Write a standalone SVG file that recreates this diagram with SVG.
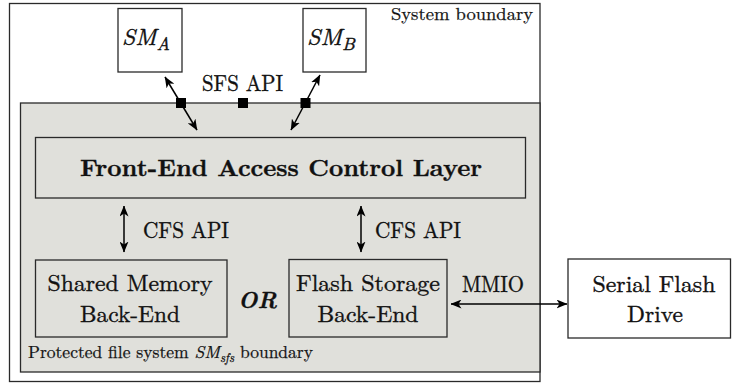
<svg xmlns="http://www.w3.org/2000/svg" width="732" height="383" viewBox="0 0 732 383" font-family="Latin Modern Roman">
<defs>
<marker id="ah" viewBox="0 0 11 9" refX="10.5" refY="4.5" markerWidth="11" markerHeight="9" markerUnits="userSpaceOnUse" orient="auto-start-reverse">
<path d="M0,0 L11,4.5 L0,9 L3,4.5 z" fill="#000"/>
</marker>
<style>
.box{fill:none;stroke:#2a2a2a;stroke-width:1.3}
.wbox{fill:#fff;stroke:#2a2a2a;stroke-width:1.3}
text{fill:#111;stroke:#111;stroke-width:0.35;font-size:23px}
.s{font-size:17.5px;stroke-width:0.25}
.i{font-style:italic}
.b{font-weight:bold}
.conn{stroke:#000;stroke-width:1.5;fill:none;marker-start:url(#ah);marker-end:url(#ah)}
.port{fill:#000}
</style>
</defs>
<rect width="732" height="383" fill="#fff"/>

<g id="system-boundary">
<rect class="wbox" x="9.5" y="3.5" width="530.5" height="378"/>
<text class="s" x="533" y="20" text-anchor="end" textLength="142" lengthAdjust="spacingAndGlyphs">System boundary</text>
</g>

<g id="protected-fs">
<rect x="20.5" y="103" width="519.5" height="269" fill="#e0e0db" stroke="#2a2a2a" stroke-width="1.3"/>
<text class="s" x="28" y="358" textLength="285" lengthAdjust="spacingAndGlyphs">Protected file system <tspan class="i">SM</tspan><tspan class="i" font-size="12.5" dy="3.5">sfs</tspan><tspan dy="-3.5"> boundary</tspan></text>
</g>

<g id="sm-a">
<rect class="wbox" x="118" y="8.5" width="64" height="63.5"/>
<text class="i" x="122" y="45" font-size="25" textLength="48" lengthAdjust="spacingAndGlyphs">SM<tspan font-size="17.5" dy="4.5">A</tspan></text>
</g>

<g id="sm-b">
<rect class="wbox" x="303" y="8.5" width="63" height="63.5"/>
<text class="i" x="307" y="45" font-size="25" textLength="48" lengthAdjust="spacingAndGlyphs">SM<tspan font-size="17.5" dy="4.5">B</tspan></text>
</g>

<g id="front-end">
<rect class="box" x="35.5" y="137.5" width="490" height="60.5"/>
<text class="b" x="281" y="176" text-anchor="middle" font-size="24" textLength="402" lengthAdjust="spacingAndGlyphs">Front-End Access Control Layer</text>
</g>

<g id="shared-memory">
<rect class="box" x="35.5" y="260" width="191.5" height="77"/>
<text x="130" y="291" text-anchor="middle" textLength="165" lengthAdjust="spacingAndGlyphs">Shared Memory</text>
<text x="130" y="322" text-anchor="middle" textLength="100" lengthAdjust="spacingAndGlyphs">Back-End</text>
</g>

<g id="or-label">
<text class="b i" x="257.5" y="308" text-anchor="middle" font-size="24" textLength="39" lengthAdjust="spacingAndGlyphs">OR</text>
</g>

<g id="flash-storage">
<rect class="box" x="289" y="259.5" width="158" height="77.5"/>
<text x="368" y="291" text-anchor="middle" textLength="144" lengthAdjust="spacingAndGlyphs">Flash Storage</text>
<text x="368" y="322" text-anchor="middle" textLength="101" lengthAdjust="spacingAndGlyphs">Back-End</text>
</g>

<g id="serial-flash">
<rect class="wbox" x="568" y="259" width="162.5" height="79"/>
<text x="654" y="292" text-anchor="middle" textLength="123" lengthAdjust="spacingAndGlyphs">Serial Flash</text>
<text x="655" y="322" text-anchor="middle" textLength="56" lengthAdjust="spacingAndGlyphs">Drive</text>
</g>

<g id="connectors">
<line class="conn" x1="165" y1="77" x2="197" y2="130"/>
<line class="conn" x1="320" y1="75" x2="291" y2="130"/>
<rect class="port" x="176" y="98" width="10" height="10"/>
<rect class="port" x="238" y="98" width="10" height="10"/>
<rect class="port" x="300.5" y="98" width="10" height="10"/>
<text x="202" y="91" textLength="81" lengthAdjust="spacingAndGlyphs">SFS API</text>

<line class="conn" x1="124" y1="206" x2="124" y2="252"/>
<text x="143" y="238" textLength="86" lengthAdjust="spacingAndGlyphs">CFS API</text>
<line class="conn" x1="361" y1="206" x2="361" y2="252"/>
<text x="375" y="238" textLength="86" lengthAdjust="spacingAndGlyphs">CFS API</text>

<line class="conn" x1="451" y1="304" x2="567" y2="304"/>
<text x="462" y="292" textLength="62" lengthAdjust="spacingAndGlyphs">MMIO</text>
</g>
</svg>
